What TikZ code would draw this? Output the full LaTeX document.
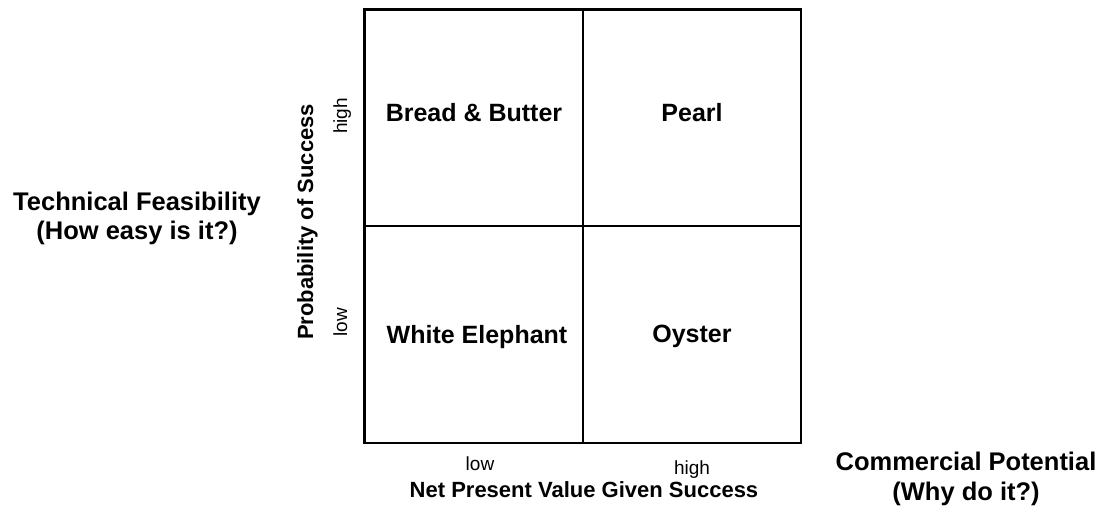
\documentclass[tikz,border=0pt]{standalone}
\usepackage{fontspec}
\setmainfont{Liberation Sans}
\begin{document}
\begin{tikzpicture}[x=1pt,y=-1pt,
  grid/.style={line width=2.5pt, line cap=rect},
  quad/.style={font=\fontsize{25}{30}\selectfont\bfseries, anchor=base, inner sep=0pt},
  tick/.style={font=\fontsize{19}{23}\selectfont, anchor=base, inner sep=0pt},
  axis/.style={font=\fontsize{22}{26}\selectfont\bfseries, anchor=base, inner sep=0pt},
  big/.style={font=\fontsize{25.5}{29.5}\selectfont\bfseries, align=center, inner sep=0pt}]
\useasboundingbox (0,0) rectangle (1104,513);
% grid corners
\coordinate (tl) at (364.5,9.5);
\coordinate (br) at (801,443);
\coordinate (tm) at (583,9.5);
\coordinate (bm) at (583,443);
\coordinate (lm) at (364.5,226);
\coordinate (rm) at (801,226);
\draw[grid] (tl) rectangle (br);
\draw[grid] (tm) -- (bm);
\draw[grid] (lm) -- (rm);
% quadrant labels
\node[quad] (bb) at (474,122) {Bread \& Butter};
\node[quad] (pe) at (692,122) {Pearl};
\node[quad] (we) at (477,343) {White Elephant};
\node[quad] (oy) at (692,342) {Oyster};
% horizontal axis
\node[tick] (xlow) at (480,470) {low};
\node[tick] (xhigh) at (692,474) {high};
\node[axis] (xlab) at (584,497) {Net Present Value Given Success};
% vertical axis
\node[tick, rotate=90] (yhigh) at (347,116) {high};
\node[tick, rotate=90] (ylow) at (347,322) {low};
\node[axis, rotate=90] (ylab) at (313,222) {Probability of Success};
% outer labels
\node[big, anchor=base] (tf) at (137,240) {Technical Feasibility\\(How easy is it?)};
\node[big, anchor=base] (cp) at (966,500) {Commercial Potential\\(Why do it?)};
\end{tikzpicture}
\end{document}
